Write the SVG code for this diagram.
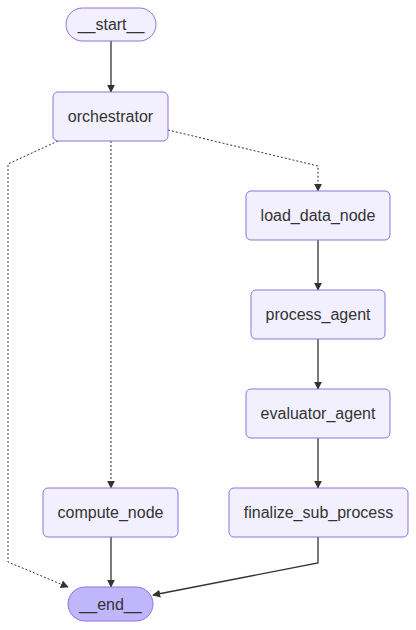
<svg xmlns="http://www.w3.org/2000/svg" width="416" height="630" viewBox="0 0 416 630">
<style>
.node rect{fill:#f2f0ff;stroke:#9370db;stroke-width:1}
.node text{font-family:"Liberation Sans",Arial,sans-serif;font-size:16px;fill:#333;text-anchor:middle;dominant-baseline:central}
#end rect{fill:#bfb6fc}
.edge{fill:none;stroke:#333;stroke-width:1.3}
.dot{stroke-dasharray:2,2;stroke-width:1}
</style>
<defs>
<marker id="arr" viewBox="0 0 10 10" refX="9" refY="5" markerWidth="8" markerHeight="8" markerUnits="userSpaceOnUse" orient="auto">
<path d="M0,0 L10,5 L0,10 z" fill="#333"/>
</marker>
</defs>
<rect width="416" height="630" fill="#fff"/>
<g id="connectors">
<path class="edge" d="M111,41 L111,92" marker-end="url(#arr)"/>
<path class="edge dot" d="M168,130 L318,166 L318,191" marker-end="url(#arr)"/>
<path class="edge dot" d="M111,141 L111,488" marker-end="url(#arr)"/>
<path class="edge dot" d="M58,141 L8,164 L8,562 L68,587" marker-end="url(#arr)"/>
<path class="edge" d="M318,240 L318,290" marker-end="url(#arr)"/>
<path class="edge" d="M318,339 L318,389" marker-end="url(#arr)"/>
<path class="edge" d="M318,438 L318,488" marker-end="url(#arr)"/>
<path class="edge" d="M111,537 L111,587" marker-end="url(#arr)"/>
<path class="edge" d="M318,537 L318,563 L153,595" marker-end="url(#arr)"/>
</g>
<g id="start" class="node"><rect x="66" y="8" width="90" height="33" rx="16.5"/><text x="111" y="24.5">__start__</text></g>
<g id="orchestrator" class="node"><rect x="53" y="92" width="115" height="49" rx="5"/><text x="110.5" y="116.5">orchestrator</text></g>
<g id="load_data_node" class="node"><rect x="246" y="191" width="144" height="49" rx="5"/><text x="318" y="215.5">load_data_node</text></g>
<g id="process_agent" class="node"><rect x="251" y="290" width="134" height="49" rx="5"/><text x="318" y="314.5">process_agent</text></g>
<g id="evaluator_agent" class="node"><rect x="246" y="389" width="144" height="49" rx="5"/><text x="318" y="413.5">evaluator_agent</text></g>
<g id="finalize_sub_process" class="node"><rect x="229" y="488" width="179" height="49" rx="5"/><text x="318.5" y="512.5">finalize_sub_process</text></g>
<g id="compute_node" class="node"><rect x="43" y="488" width="135" height="49" rx="5"/><text x="110.5" y="512.5">compute_node</text></g>
<g id="end" class="node"><rect x="68" y="587" width="85" height="34" rx="17"/><text x="110.5" y="604">__end__</text></g>
</svg>
